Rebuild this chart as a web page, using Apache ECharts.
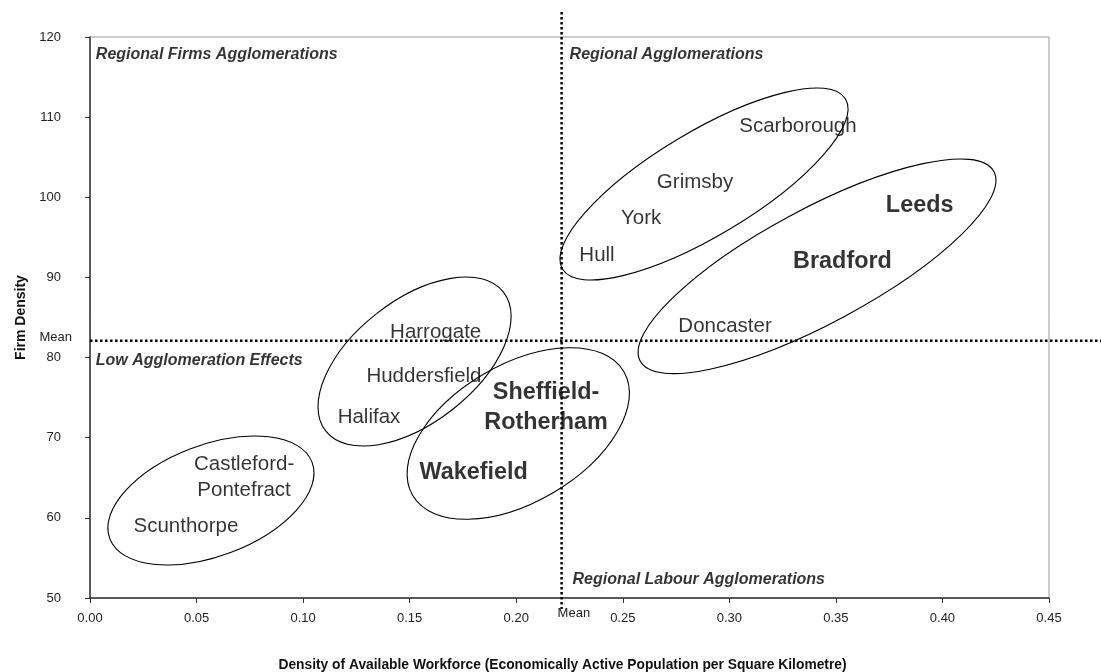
<!DOCTYPE html>
<html>
<head>
<meta charset="utf-8">
<script src="https://cdn.jsdelivr.net/npm/echarts@6/dist/echarts.min.js"></script>
<style>
  html, body { margin: 0; padding: 0; background: #fff; }
  #chart { width: 1101px; height: 672px; }
</style>
</head>
<body>
<div id="chart"></div>
<script>
// labour-market areas, plain labels
const cityNames = ['Scarborough', 'Grimsby', 'York', 'Hull', 'Doncaster', 'Harrogate', 'Huddersfield', 'Halifax', 'Castleford-\nPontefract', 'Scunthorpe'];
const cityWorkforce = [0.3322, 0.2839, 0.2586, 0.2379, 0.298, 0.1622, 0.1567, 0.1309, 0.0723, 0.045];
const cityFirms = [108.9, 101.9, 97.4, 92.8, 83.9, 83.2, 77.7, 72.5, 65.0, 58.9];

// the large areas, bold labels
const majorNames = ['Leeds', 'Bradford', 'Sheffield-\nRotherham', 'Wakefield'];
const majorWorkforce = [0.3893, 0.3531, 0.214, 0.18];
const majorFirms = [99.0, 92.0, 73.8, 65.6];

// quadrant captions (left end of the text)
const quadrantNames = ['Regional Firms Agglomerations', 'Regional Agglomerations', 'Low Agglomeration Effects', 'Regional Labour Agglomerations'];
const quadrantWorkforce = [0.0025, 0.2248, 0.0025, 0.2262];
const quadrantFirms = [117.75, 117.75, 79.6, 52.25];

const meanWorkforce = 0.2213;
const meanFirms = 82.1;

// cluster outlines: leftmost, rightmost, top and bottom point of each ellipse
const clusterLeft = [[0.0084, 58.86], [0.107, 74.45], [0.1488, 66.18], [0.2205, 92.55], [0.2572, 80.6]];
const clusterRight = [[0.1051, 65.97], [0.1976, 84.94], [0.2531, 75.74], [0.3557, 111.27], [0.4251, 102.16]];
const clusterTop = [[0.076, 70.21], [0.176, 90.05], [0.2284, 81.23], [0.3411, 113.64], [0.4082, 104.78]];
const clusterBottom = [[0.0361, 54.12], [0.1243, 68.96], [0.1768, 59.82], [0.2346, 89.68], [0.2741, 78.0]];

const xMin = 0, xMax = 0.45, xStep = 0.05;
const yMin = 50, yMax = 120, yStep = 10;

const font = '"Liberation Sans", Arial, sans-serif';

const chart = echarts.init(document.getElementById('chart'));

function toPoints(xs, ys, names) {
  return xs.map((x, i) => [x, ys[i], names[i]]);
}

function renderCluster(params, api) {
  const L = api.coord([api.value(0), api.value(1)]);
  const R = api.coord([api.value(2), api.value(3)]);
  const T = api.coord([api.value(4), api.value(5)]);
  const B = api.coord([api.value(6), api.value(7)]);
  const cx = (L[0] + R[0]) / 2;
  const cy = (T[1] + B[1]) / 2;
  const W = (R[0] - L[0]) / 2;
  const H = (B[1] - T[1]) / 2;
  const K = (W * (L[1] - cy) + W * (cy - R[1]) + H * (T[0] - cx) + H * (cx - B[0])) / 4;
  const S = W * W + H * H;
  const D = Math.sqrt((W * W - H * H) ** 2 + 4 * K * K);
  const a = Math.sqrt((S + D) / 2);
  const b = Math.sqrt(Math.max(S - D, 0) / 2);
  const theta = 0.5 * Math.atan2(2 * K, W * W - H * H);
  return {
    type: 'ellipse',
    x: cx,
    y: cy,
    rotation: theta,
    shape: { cx: 0, cy: 0, rx: a, ry: b },
    style: { fill: 'none', stroke: '#000', lineWidth: 1.1 },
  };
}

function renderMeans(params, api) {
  const c = api.coord([api.value(0), api.value(1)]);
  const top = api.coord([api.value(0), yMax])[1];
  const bottom = api.coord([api.value(0), yMin])[1];
  const left = api.coord([xMin, api.value(1)])[0];
  const dotted = { stroke: '#000', lineWidth: 2.5, lineDash: [2.5, 2.5] };
  return {
    type: 'group',
    children: [
      { type: 'line', shape: { x1: c[0], y1: top - 25, x2: c[0], y2: bottom + 11 }, style: dotted },
      { type: 'line', shape: { x1: left, y1: c[1], x2: api.getWidth(), y2: c[1] }, style: dotted },
      { type: 'text', x: c[0] - 4, y: bottom + 15, style: { text: 'Mean', font: '13px ' + font, fill: '#222', align: 'left', verticalAlign: 'middle' } },
      { type: 'text', x: left - 18, y: c[1] - 3, style: { text: 'Mean', font: '13px ' + font, fill: '#222', align: 'right', verticalAlign: 'middle' } },
    ],
  };
}

const option = {
  animation: false,
  backgroundColor: '#fff',
  grid: {
    left: 90, right: 52, top: 37, bottom: 74,
    show: true, borderColor: '#999', borderWidth: 1,
    outerBoundsMode: 'none',
  },
  xAxis: {
    type: 'value',
    min: xMin, max: xMax, interval: xStep,
    name: 'Density of Available Workforce (Economically Active Population per Square Kilometre)',
    nameLocation: 'middle',
    nameGap: 60,
    nameTextStyle: { fontFamily: font, fontWeight: 'bold', fontSize: 13.8, color: '#111', padding: [0, 14, 0, 0] },
    axisLine: { show: true, onZero: false, lineStyle: { color: '#333', width: 1.5 } },
    axisTick: { show: true, length: 5, lineStyle: { color: '#333' } },
    axisLabel: { fontFamily: font, fontSize: 13, color: '#222', margin: 14, formatter: (v) => v.toFixed(2) },
    splitLine: { show: false },
  },
  yAxis: {
    type: 'value',
    min: yMin, max: yMax, interval: yStep,
    name: 'Firm Density',
    nameLocation: 'middle',
    nameGap: 62,
    nameTextStyle: { fontFamily: font, fontWeight: 'bold', fontSize: 14, color: '#111' },
    axisLine: { show: true, onZero: false, lineStyle: { color: '#333', width: 1.5 } },
    axisTick: { show: true, length: 5, lineStyle: { color: '#333' } },
    axisLabel: { fontFamily: font, fontSize: 13, color: '#222', margin: 29 },
    splitLine: { show: false },
  },
  series: [
    {
      type: 'custom',
      name: 'clusters',
      silent: true,
      clip: false,
      renderItem: renderCluster,
      encode: { x: [0, 2, 4, 6], y: [1, 3, 5, 7] },
      data: clusterLeft.map((p, i) => [p[0], p[1], clusterRight[i][0], clusterRight[i][1], clusterTop[i][0], clusterTop[i][1], clusterBottom[i][0], clusterBottom[i][1]]),
      z: 2,
    },
    {
      type: 'custom',
      name: 'means',
      silent: true,
      clip: false,
      renderItem: renderMeans,
      encode: { x: 0, y: 1 },
      data: [[meanWorkforce, meanFirms]],
      z: 3,
    },
    {
      type: 'scatter',
      name: 'areas',
      silent: true,
      symbolSize: 1,
      itemStyle: { color: 'rgba(0,0,0,0)' },
      data: toPoints(cityWorkforce, cityFirms, cityNames),
      label: {
        show: true, position: 'inside', formatter: (p) => p.data[2],
        fontFamily: font, fontSize: 20.5, color: '#000', lineHeight: 26,
      },
      z: 4,
    },
    {
      type: 'scatter',
      name: 'major areas',
      silent: true,
      symbolSize: 1,
      itemStyle: { color: 'rgba(0,0,0,0)' },
      data: toPoints(majorWorkforce, majorFirms, majorNames),
      label: {
        show: true, position: 'inside', formatter: (p) => p.data[2],
        fontFamily: font, fontSize: 23.4, fontWeight: 'bold', color: '#000', lineHeight: 30,
      },
      z: 4,
    },
    {
      type: 'scatter',
      name: 'quadrants',
      silent: true,
      symbolSize: 1,
      itemStyle: { color: 'rgba(0,0,0,0)' },
      data: toPoints(quadrantWorkforce, quadrantFirms, quadrantNames),
      label: {
        show: true, position: 'right', distance: 0, formatter: (p) => p.data[2],
        fontFamily: font, fontSize: 16, fontWeight: 'bold', fontStyle: 'italic', color: '#000',
      },
      z: 4,
    },
  ],
};

chart.setOption(option);
</script>
</body>
</html>
